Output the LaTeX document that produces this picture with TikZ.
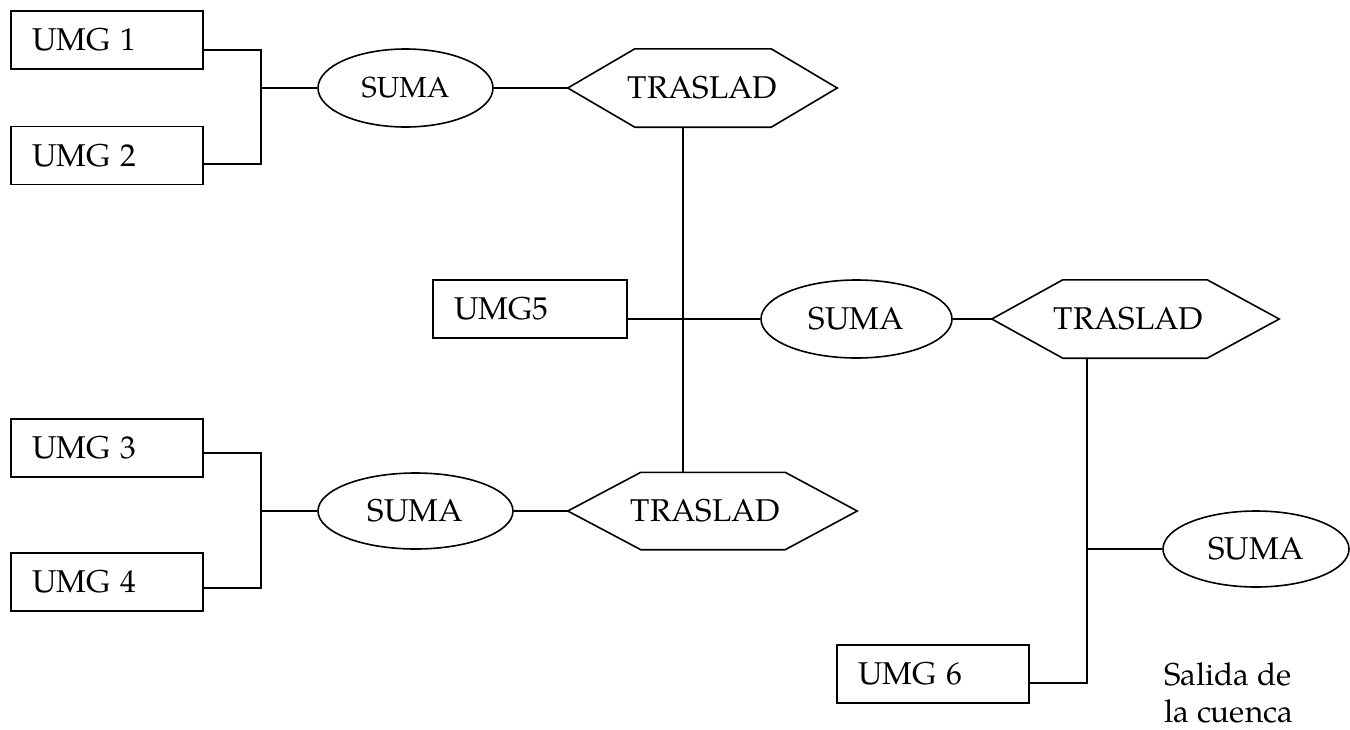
\documentclass[tikz,border=0pt]{standalone}
\usepackage{fontspec}
\setmainfont{TeX Gyre Pagella}
\usetikzlibrary{shapes.geometric}
\tikzset{
  x=1pt, y=-1pt,
  every node/.style={font=\fontsize{31.5}{37}\selectfont},
  line/.style={line width=1.6pt, line join=miter},
  umg/.style={draw, line width=1.6pt, rectangle, text width=150pt, align=left,
    inner xsep=21pt, inner ysep=0pt, minimum height=58pt},
  sumanode/.style={draw, line width=1.6pt, ellipse, inner sep=0pt},
  hexnode/.style={rectangle, inner sep=0pt, minimum height=78pt},
}
\newcommand\hexoutline[3]{%
  \draw[line] (#1.west) -- ([xshift=#2]#1.north west) -- ([xshift=-#3]#1.north east)
    -- (#1.east) -- ([xshift=-#3]#1.south east) -- ([xshift=#2]#1.south west) -- cycle;}
\begin{document}
\begin{tikzpicture}
\useasboundingbox (0,0) rectangle (1350,729);
% boxes
\node[umg] (umg1) at (107,40) {UMG 1};
\node[umg] (umg2) at (107,155.5) {UMG 2};
\node[umg] (umg3) at (107,448) {UMG 3};
\node[umg] (umg4) at (107,582) {UMG 4};
\node[umg, text width=152pt] (umg5) at (530,309) {UMG5};
\node[umg] (umg6) at (933,674) {UMG 6};
% ellipses
\node[sumanode, minimum width=175pt, minimum height=78pt, font=\fontsize{29}{35}\selectfont] (suma1) at (405.5,88) {SUMA};
\node[sumanode, minimum width=191pt, minimum height=78pt] (suma2) at (856.5,319) {SUMA};
\node[sumanode, minimum width=195pt, minimum height=76pt] (suma4) at (415.5,511) {SUMA};
\node[sumanode, minimum width=186pt, minimum height=76pt] (suma3) at (1256,549) {SUMA};
% hexagons
\node[hexnode, minimum width=269pt] (t1) at (702.5,88) {TRASLAD};
\hexoutline{t1}{67pt}{66pt}
\node[hexnode, minimum width=287pt] (t2) at (1135.5,319) {\hspace*{-14pt}TRASLAD};
\hexoutline{t2}{71pt}{72pt}
\node[hexnode, minimum width=289pt, minimum height=77pt] (t3) at (712.5,511) {\hspace*{-14pt}TRASLAD};
\hexoutline{t3}{73pt}{72pt}
% junctions
\coordinate (j1) at (261,88);
\coordinate (j2) at (261,511);
\coordinate (b3) at (1087,549);
% connectors
\draw[line] ([yshift=-10pt]umg1.east) -| (j1);
\draw[line] ([yshift=-8.5pt]umg2.east) -| (j1);
\draw[line] (j1) -- (suma1.west);
\draw[line] (suma1.east) -- (t1.west);
\draw[line] ([yshift=-5pt]umg3.east) -| (j2);
\draw[line] ([yshift=-6pt]umg4.east) -| (j2);
\draw[line] (j2) -- (suma4.west);
\draw[line] (suma4.east) -- (t3.west);
\draw[line] ([xshift=-19.5pt]t1.south) -- ([xshift=-29.5pt]t3.north);
\draw[line] ([yshift=-10pt]umg5.east) -- (suma2.west);
\draw[line] (suma2.east) -- (t2.west);
\draw[line] ([xshift=-48.5pt]t2.south) |- ([yshift=-9pt]umg6.east);
\draw[line] (b3) -- (suma3.west);
% outlet label
\node[anchor=base west, align=left, inner sep=0pt] (salida) at (1164,722) {Salida de\\la cuenca};
\end{tikzpicture}
\end{document}
